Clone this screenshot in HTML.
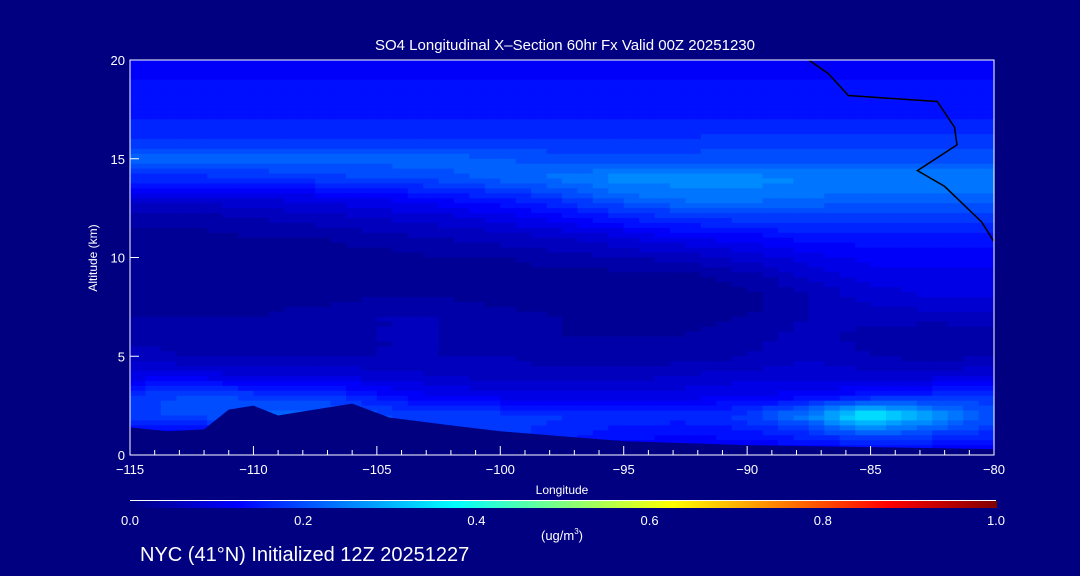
<!DOCTYPE html>
<html><head><meta charset="utf-8"><style>
body{margin:0;background:#000080;}
svg{display:block;font-family:"Liberation Sans",sans-serif;}
</style></head><body>
<svg id="chart" width="1080" height="576" viewBox="0 0 1080 576">
<rect x="0" y="0" width="1080" height="576" fill="#000080"/>
<g id="field"></g>
<g id="terrain"></g>
<g id="contours"></g>
<g id="axes"></g>
<text x="565" y="50" fill="#fff" font-size="15" text-anchor="middle">SO4 Longitudinal X–Section 60hr  Fx Valid 00Z 20251230</text>
<text x="0" y="0" fill="#fff" font-size="12" text-anchor="middle" transform="translate(97,258) rotate(-90)">Altitude (km)</text>
<text x="562" y="494" fill="#fff" font-size="12" text-anchor="middle">Longitude</text>
<defs><linearGradient id="jet" x1="0" x2="1" y1="0" y2="0">
<stop offset="0" stop-color="#000080"/><stop offset="0.125" stop-color="#0000ff"/><stop offset="0.375" stop-color="#00ffff"/><stop offset="0.625" stop-color="#ffff00"/><stop offset="0.875" stop-color="#ff0000"/><stop offset="1" stop-color="#800000"/></linearGradient></defs>
<line x1="130" x2="996" y1="500.5" y2="500.5" stroke="#fff"/>
<rect x="130" y="501" width="867" height="7" fill="url(#jet)"/>
<g id="cbticks"></g>
<text x="562" y="540" fill="#fff" font-size="13" text-anchor="middle">(ug/m<tspan font-size="8" dy="-6">3</tspan><tspan dy="6">)</tspan></text>
<text x="140" y="561" fill="#fff" font-size="20">NYC (41°N) Initialized 12Z 20251227</text>
</svg>
<script>
const lons=[-115,-112.5,-110,-107.5,-105,-102.5,-100,-97.5,-95,-92.5,-90,-87.5,-85,-82.5,-80];
const alts=[20,19,18,17,16,15,14,13,12,11,10,9,8,7,6,5,4,3,2,1,0];
const r20=[.11,.11,.11,.11,.11,.11,.11,.11,.11,.11,.11,.11,.11,.12,.12];
const r19=[.13,.13,.13,.13,.13,.13,.13,.13,.13,.13,.13,.13,.13,.13,.13];
const r18=[.14,.14,.14,.14,.14,.14,.14,.14,.14,.14,.14,.14,.14,.14,.14];
const r17=[.15,.15,.15,.15,.15,.15,.15,.15,.15,.15,.15,.15,.15,.15,.15];
const r16=[.17,.17,.17,.17,.17,.17,.17,.17,.17,.17,.18,.18,.18,.18,.18];
const r15=[.22,.22,.22,.22,.22,.22,.21,.2,.2,.2,.2,.2,.2,.2,.2];
const r14=[.16,.16,.17,.18,.19,.2,.22,.24,.26,.26,.26,.25,.25,.25,.25];
const r13=[.08,.08,.09,.1,.11,.13,.15,.18,.22,.24,.24,.23,.22,.22,.22];
const r12=[.04,.04,.05,.06,.07,.08,.1,.12,.15,.17,.18,.18,.18,.18,.18];
const r11=[.02,.02,.03,.03,.04,.05,.06,.07,.09,.11,.12,.14,.14,.14,.14];
const r10=[.02,.02,.02,.02,.02,.03,.03,.04,.05,.06,.08,.1,.12,.12,.12];
const r9=[.02,.02,.02,.02,.02,.02,.02,.02,.02,.02,.04,.07,.1,.1,.1];
const r8=[.02,.02,.02,.02,.03,.03,.02,.01,.01,.01,.02,.05,.08,.09,.09];
const r7=[.03,.03,.03,.04,.05,.05,.04,.03,.02,.02,.03,.05,.06,.06,.06];
const r6=[.04,.04,.04,.04,.05,.05,.04,.03,.03,.03,.04,.06,.04,.03,.04];
const r5=[.06,.05,.05,.05,.05,.05,.05,.04,.04,.04,.05,.07,.05,.04,.05];
const r4=[.1,.1,.09,.09,.08,.07,.06,.06,.06,.07,.08,.08,.08,.08,.09];
const r3=[.17,.2,.18,.18,.14,.11,.1,.1,.1,.1,.11,.12,.14,.16,.17];
const r2=[.18,.2,.22,.22,.2,.18,.18,.17,.16,.16,.18,.25,.38,.28,.2];
const r1=[.1,.1,.12,.14,.14,.16,.18,.16,.14,.13,.14,.16,.2,.18,.16];
const r0=[.1,.1,.1,.1,.1,.1,.1,.1,.1,.1,.1,.1,.1,.1,.1];
const grid=[r20,r19,r18,r17,r16,r15,r14,r13,r12,r11,r10,r9,r8,r7,r6,r5,r4,r3,r2,r1,r0];
const terrainLon=[-115,-113.5,-112,-111,-110,-109,-108,-106,-104.5,-102,-100,-97,-95,-90,-85,-80];
const terrainAlt=[1.4,1.2,1.3,2.3,2.5,2.0,2.2,2.6,1.9,1.5,1.2,0.9,0.7,0.5,0.4,0.3];
const zeroLineLon=[-87.5,-86.7,-85.9,-82.3,-81.6,-81.5,-83.1,-82.0,-80.5,-80];
const zeroLineAlt=[20,19.3,18.2,17.9,16.6,15.7,14.4,13.6,11.8,10.8];
const xTicks=[-115,-110,-105,-100,-95,-90,-85,-80];
const yTicks=[0,5,10,15,20];
const cbTicks=[0,0.2,0.4,0.6,0.8,1.0];

const X0=130,X1=994,Y0=455,Y1=60;
const xs=l=>X0+(l+115)/35*(X1-X0);
const ys=a=>Y0-a/20*(Y0-Y1);
const NS='http://www.w3.org/2000/svg';
function jet(v){v=Math.round(v/0.02)*0.02;let r=0,g=0,b=0;
 if(v<0.125){b=128+1016*v;}else if(v<0.375){g=(v-0.125)*1020;b=255;}else if(v<0.625){r=(v-0.375)*1020;g=255;b=255-r;}else{r=255;g=Math.max(0,255-(v-0.625)*1020);}
 return `rgb(${Math.round(r)},${Math.round(g)},${Math.round(Math.min(255,b))})`;}
const field=document.getElementById('field');
const S=4;
for(let i=0;i<alts.length-1;i++){for(let j=0;j<lons.length-1;j++){
 for(let a=0;a<S;a++){for(let b=0;b<S;b++){
  const fy=(a+0.5)/S,fx=(b+0.5)/S;
  const v=grid[i][j]*(1-fx)*(1-fy)+grid[i][j+1]*fx*(1-fy)+grid[i+1][j]*(1-fx)*fy+grid[i+1][j+1]*fx*fy;
  const la=lons[j]+(lons[j+1]-lons[j])*b/S, lb=lons[j]+(lons[j+1]-lons[j])*(b+1)/S;
  const aa=alts[i]+(alts[i+1]-alts[i])*a/S, ab=alts[i]+(alts[i+1]-alts[i])*(a+1)/S;
  const r=document.createElementNS(NS,'rect');
  r.setAttribute('x',xs(la));r.setAttribute('y',ys(aa));
  r.setAttribute('width',xs(lb)-xs(la)+0.6);r.setAttribute('height',ys(ab)-ys(aa)+0.6);
  r.setAttribute('fill',jet(v));
  
  
  field.appendChild(r);
 }}}}
// terrain
let pts=terrainLon.map((l,i)=>xs(l)+','+ys(terrainAlt[i])).join(' ');
pts+=' '+xs(-80)+','+Y0+' '+xs(-115)+','+Y0;
const tp=document.createElementNS(NS,'polygon');
tp.setAttribute('points',pts);tp.setAttribute('fill','#000080');


document.getElementById('terrain').appendChild(tp);
// zero contour
const zl=document.createElementNS(NS,'polyline');
zl.setAttribute('points',zeroLineLon.map((l,i)=>xs(l)+','+ys(zeroLineAlt[i])).join(' '));
zl.setAttribute('fill','none');zl.setAttribute('stroke','#000');zl.setAttribute('stroke-width','1.5');


document.getElementById('contours').appendChild(zl);
// axes
const ax=document.getElementById('axes');
const frame=document.createElementNS(NS,'rect');
frame.setAttribute('x',X0);frame.setAttribute('y',Y1);frame.setAttribute('width',X1-X0);frame.setAttribute('height',Y0-Y1);
frame.setAttribute('fill','none');frame.setAttribute('stroke','#fff');


ax.appendChild(frame);
for(let l=-115;l<=-80;l++){const t=document.createElementNS(NS,'line');const maj=(l%5===0);
 t.setAttribute('x1',xs(l));t.setAttribute('x2',xs(l));t.setAttribute('y1',Y0);t.setAttribute('y2',Y0-(maj?9:5));
 t.setAttribute('stroke','#fff');
 
 
 ax.appendChild(t);}
xTicks.forEach(l=>{const t=document.createElementNS(NS,'text');
 t.setAttribute('x',xs(l));t.setAttribute('y',Y0+19);t.setAttribute('fill','#fff');t.setAttribute('font-size','13');t.setAttribute('text-anchor','middle');
 t.textContent=(l<0?'\u2212'+(-l):l);
 
 
 ax.appendChild(t);});
yTicks.forEach(a=>{const t=document.createElementNS(NS,'text');
 t.setAttribute('x',X0-5);t.setAttribute('y',ys(a)+5);t.setAttribute('fill','#fff');t.setAttribute('font-size','13');t.setAttribute('text-anchor','end');
 t.textContent=a;
 
 
 ax.appendChild(t);
 const k=document.createElementNS(NS,'line');k.setAttribute('x1',X0);k.setAttribute('x2',X0+9);k.setAttribute('y1',ys(a));k.setAttribute('y2',ys(a));k.setAttribute('stroke','#fff');
 
 
 ax.appendChild(k);});
const cb=document.getElementById('cbticks');
cbTicks.forEach(v=>{const t=document.createElementNS(NS,'text');
 t.setAttribute('x',130+v*866);t.setAttribute('y',525);t.setAttribute('fill','#fff');t.setAttribute('font-size','13');t.setAttribute('text-anchor','middle');
 t.textContent=v.toFixed(1);
 
 
 cb.appendChild(t);});
</script>
</body></html>
